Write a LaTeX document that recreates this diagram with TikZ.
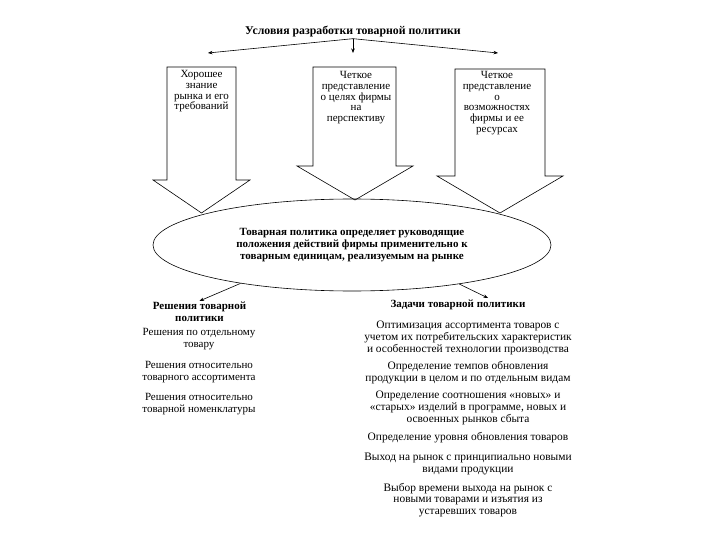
\documentclass[tikz,border=0pt]{standalone}
\usepackage{fontspec}
\setmainfont{Liberation Serif}
\usetikzlibrary{arrows.meta, shapes.geometric}
\tikzset{
  link/.style={-{Stealth[length=4.5pt,width=3.5pt]}, line width=0.6pt},
  blockarrow/.style={draw, line width=0.6pt, line join=miter},
  boxtext/.style={align=center, inner sep=0pt, anchor=north, font=\fontsize{11}{10.8}\selectfont},
  heading/.style={align=center, inner sep=1pt, font=\fontsize{11}{12}\selectfont\bfseries},
  item/.style={align=center, inner sep=1pt, font=\fontsize{11}{11.6}\selectfont},
  wideitem/.style={item, font=\fontsize{11.4}{11.6}\selectfont}
}

\begin{document}
\begin{tikzpicture}[x=1pt, y=-1pt]
\useasboundingbox (0,0) rectangle (720,540);
\node[heading, font=\fontsize{11.8}{12}\selectfont\bfseries] (title) at (353,32) {Условия разработки товарной политики};
\coordinate (t1) at (208,53);
\coordinate (t2) at (353,53);
\coordinate (t3) at (498,53);
\draw[link] (title.south) -- (t1);
\draw[link] (title.south) -- (t2);
\draw[link] (title.south) -- (t3);
% three block arrows
\draw[blockarrow] (167,67) -- (236,67) -- (236,180) -- (250,180) -- (201.5,213) -- (153,180) -- (167,180) -- cycle;
\draw[blockarrow] (313,67) -- (396,67) -- (396,166) -- (413,166) -- (355,200) -- (297,166) -- (313,166) -- cycle;
\draw[blockarrow] (455,69) -- (545,69) -- (545,176) -- (563,176) -- (500,213) -- (437,176) -- (455,176) -- cycle;
\node[boxtext] (need1) at (201.5,70) {Хорошее\\знание\\рынка и его\\требований};
\node[boxtext] (need2) at (356,71) {Четкое\\представление\\о целях фирмы\\на\\перспективу};
\node[boxtext] (need3) at (497,71) {Четкое\\представление\\о\\возможностях\\фирмы и ее\\ресурсах};
\node[ellipse, draw, line width=0.6pt, minimum width=398pt, minimum height=92pt, inner sep=0pt, heading] (policy) at (352,245)
  {Товарная политика определяет руководящие\\положения действий фирмы применительно к\\товарным единицам, реализуемым на рынке};
% two columns
\node[heading] (dec) at (199.5,312) {Решения товарной\\политики};
\node[heading] (task) at (458,305) {Задачи товарной политики};
\coordinate (taskin) at (488,298);
\draw[link] (policy.199) -- (dec.north);
\draw[link] (policy.340) -- (taskin);
\node[item] (dec1) at (199,339) {Решения по отдельному\\товару};
\node[item] (dec2) at (199,372) {Решения относительно\\товарного ассортимента};
\node[item] (dec3) at (199,404) {Решения относительно\\товарной номенклатуры};
\node[wideitem] (task1) at (468,338) {Оптимизация ассортимента товаров с\\учетом их потребительских характеристик\\и особенностей технологии производства};
\node[wideitem] (task2) at (468,372.5) {Определение темпов обновления\\продукции в целом и по отдельным видам};
\node[wideitem] (task3) at (468,408) {Определение соотношения «новых» и\\«старых» изделий в программе, новых и\\освоенных рынков сбыта};
\node[wideitem] (task4) at (468,438) {Определение уровня обновления товаров};
\node[wideitem] (task5) at (468,464) {Выход на рынок с принципиально новыми\\видами продукции};
\node[wideitem] (task6) at (468,500) {Выбор времени выхода на рынок с\\новыми товарами и изъятия из\\устаревших товаров};
\end{tikzpicture}
\end{document}
